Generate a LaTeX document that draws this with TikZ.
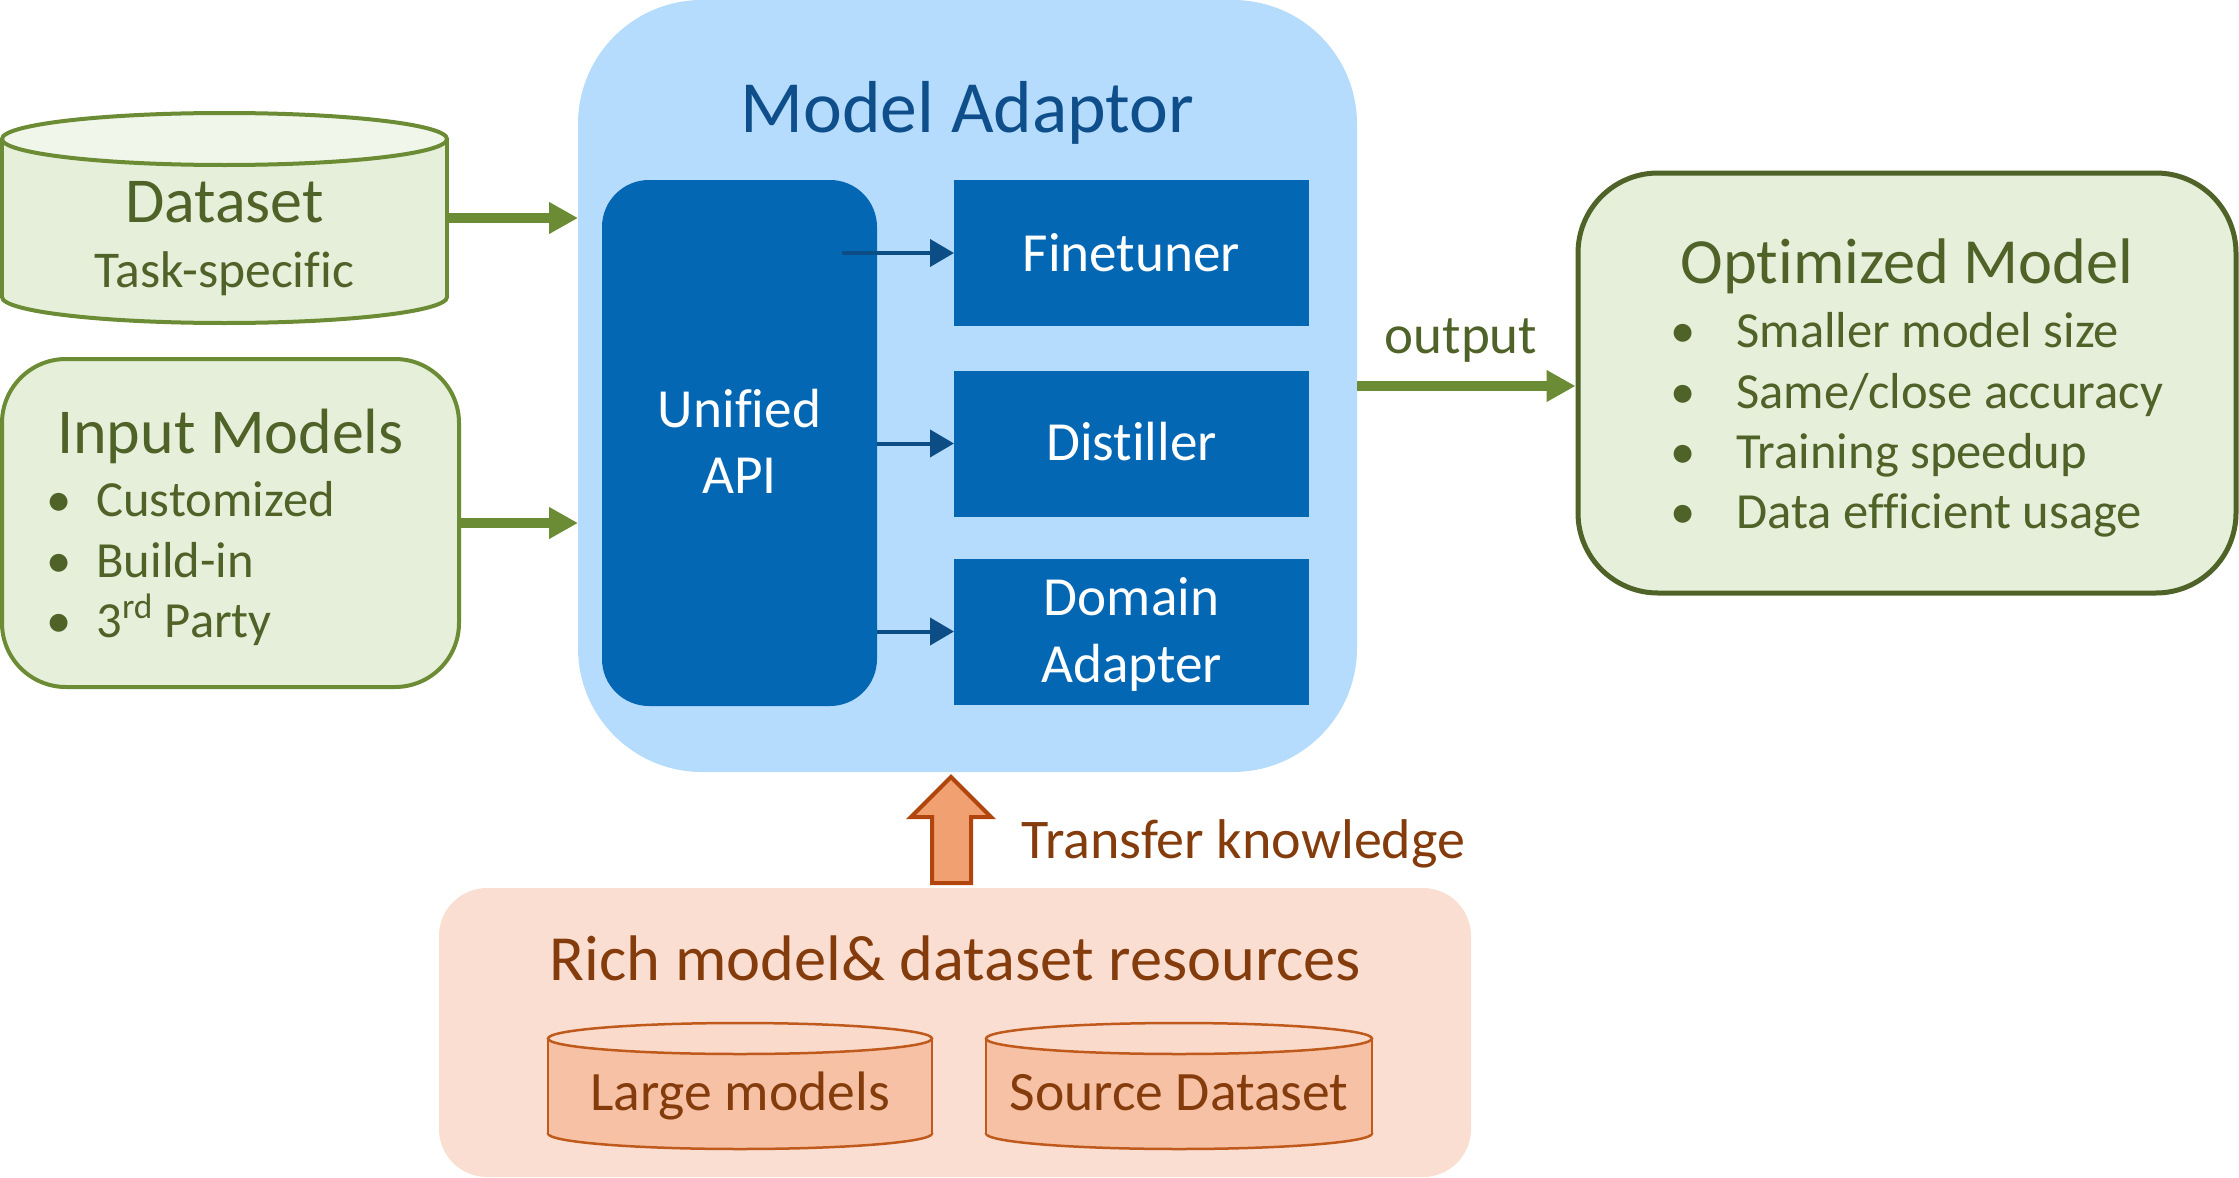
\documentclass[tikz,border=0pt]{standalone}
\usepackage{fontspec}
\setmainfont{Carlito}[Ligatures=NoCommon]
\usetikzlibrary{arrows.meta}
\definecolor{gline}{HTML}{6B8B34}
\definecolor{gdark}{HTML}{4F6228}
\definecolor{gfill}{HTML}{E6EFD9}
\definecolor{gfilltop}{HTML}{F1F6EA}
\definecolor{bigblue}{HTML}{B5DBFD}
\definecolor{boxblue}{HTML}{0467B4}
\definecolor{titleblue}{HTML}{0E4E8A}
\definecolor{arrblue}{HTML}{0D4D86}
\definecolor{peach}{HTML}{FADED1}
\definecolor{cylbody}{HTML}{F6C1A4}
\definecolor{cyltop}{HTML}{FADBCB}
\definecolor{cylstroke}{HTML}{C05A1C}
\definecolor{browntxt}{HTML}{843C0C}
\definecolor{arrfill}{HTML}{F1A171}
\definecolor{arrstroke}{HTML}{B0460E}
\newcommand\fsz[1]{\fontsize{#1}{#1}\selectfont}
% cylinder: #1 xl, #2 xr, #3 top edge y, #4 bottom edge y, #5 ry, #6 body, #7 top, #8 stroke, #9 width
\newcommand\drawcyl[9]{%
  \pgfmathsetmacro\cylcx{(#1+#2)/2}%
  \pgfmathsetmacro\cylrx{(#2-#1)/2}%
  \pgfmathsetmacro\cylyt{#3+#5}%
  \pgfmathsetmacro\cylyb{#4-#5}%
  \path[fill=#6,draw=#8,line width=#9] (\cylcx,\cylyb) ellipse ({\cylrx} and {#5});
  \path[fill=#6] (#1,\cylyt) rectangle (#2,\cylyb);
  \draw[#8,line width=#9] (#1,\cylyt) -- (#1,\cylyb) (#2,\cylyt) -- (#2,\cylyb);
  \path[fill=#7,draw=#8,line width=#9] (\cylcx,\cylyt) ellipse ({\cylrx} and {#5});
}
\tikzset{
  gt/.style={text=gdark, inner sep=0pt, anchor=base},
  gtl/.style={text=gdark, inner sep=0pt, anchor=base west},
  wt/.style={text=white, inner sep=0pt, anchor=base},
  bt/.style={text=browntxt, inner sep=0pt, anchor=base},
  bluebox/.style={fill=boxblue, draw=none, inner sep=0pt, outer sep=0pt, minimum width=177.5pt, minimum height=73pt},
  garrow/.style={gline, line width=5pt, -{Triangle[length=14.5pt,width=15pt]}},
  barrow/.style={arrblue, line width=2pt, -{Triangle[length=12pt,width=13.5pt]}},
}
\begin{document}
\begin{tikzpicture}[x=0.5pt,y=-0.5pt]
\useasboundingbox (0,0) rectangle (2239,1178);

% ---------- Model Adaptor ----------
\node[fill=bigblue, draw=none, rounded corners=62pt, minimum width=389.5pt, minimum height=386pt, inner sep=0pt, outer sep=0pt] (ma) at (967.5,386) {};
\node[text=titleblue, inner sep=0pt, anchor=base, font=\fsz{36.8}] (maT) at (967.5,132) {Model Adaptor};
\node[fill=boxblue, draw=none, rounded corners=23.5pt, minimum width=137.5pt, minimum height=263pt, inner sep=0pt, outer sep=0pt] (api) at (739.5,443) {};
\node[wt, font=\fsz{27.6}] (apiT1) at (739.5,427) {Unified};
\node[wt, font=\fsz{27.6}] (apiT2) at (739.5,493) {API};
\node[bluebox] (ft) at (1131.5,253) {};
\node[bluebox] (dis) at (1131.5,443.5) {};
\node[bluebox] (dom) at (1131.5,631.5) {};
\node[wt, font=\fsz{27.6}] (ftT) at (1131.5,271) {Finetuner};
\node[wt, font=\fsz{27.6}] (disT) at (1131.5,460) {Distiller};
\node[wt, font=\fsz{27.6}] (domT1) at (1131.5,615) {Domain};
\node[wt, font=\fsz{27.6}] (domT2) at (1131.5,682) {Adapter};
\coordinate (apiF) at (842,253);
\draw[barrow] (apiF) -- (ft.west);
\draw[barrow] (api.east |- dis.west) -- (dis.west);
\draw[barrow] (api.east |- dom.west) -- (dom.west);

% ---------- Dataset ----------
\drawcyl{2}{447}{113}{323}{26}{gfill}{gfilltop}{gline}{2pt}
\node[draw=none, inner sep=0pt, outer sep=0pt, minimum width=222.5pt, minimum height=105pt] (ds) at (224.5,218) {};
\node[gt, font=\fsz{32}] (dsT1) at (224.5,222) {Dataset};
\node[gt, font=\fsz{25.8}] (dsT2) at (224.5,287) {Task-specific};

% ---------- Input Models ----------
\node[fill=gfill, draw=gline, line width=2pt, rounded corners=32pt, minimum width=228.5pt, minimum height=164pt, inner sep=0pt, outer sep=0pt] (inm) at (230.5,523) {};
\node[gt, font=\fsz{32}] (inmT) at (230.5,453) {Input Models};
\node[gt, font=\fsz{25.3}] (inmB1) at (59,516) {•};
\node[gt, font=\fsz{25.3}] (inmB2) at (59,577) {•};
\node[gt, font=\fsz{25.3}] (inmB3) at (59,637) {•};
\node[gtl, font=\fsz{25.3}] (inmL1) at (96,516) {Customized};
\node[gtl, font=\fsz{25.3}] (inmL2) at (96,577) {Build-in};
\node[gtl, font=\fsz{25.3}] (inmL3) at (96,637) {3\textsuperscript{rd} Party};

\draw[garrow] (ds.east) -- (ds.east -| ma.west);
\draw[garrow] (inm.east) -- (inm.east -| ma.west);

% ---------- Optimized Model ----------
\node[fill=gfill, draw=gdark, line width=2.5pt, rounded corners=40pt, minimum width=329pt, minimum height=210pt, inner sep=0pt] (opt) at (1907,383) {};
\node[gt, font=\fsz{32.2}] (optT) at (1907,283) {Optimized Model};
\node[gt, font=\fsz{25.3}] (optB1) at (1683,347) {•};
\node[gt, font=\fsz{25.3}] (optB2) at (1683,408) {•};
\node[gt, font=\fsz{25.3}] (optB3) at (1683,468) {•};
\node[gt, font=\fsz{25.3}] (optB4) at (1683,528) {•};
\node[gtl, font=\fsz{25.3}] (optL1) at (1736,347) {Smaller model size};
\node[gtl, font=\fsz{25.3}] (optL2) at (1736,408) {Same/close accuracy};
\node[gtl, font=\fsz{25.3}] (optL3) at (1736,468) {Training speedup};
\node[gtl, font=\fsz{25.3}] (optL4) at (1736,528) {Data efficient usage};
\draw[garrow] (ma.east |- 0,386) -- (opt.west |- 0,386);
\node[gt, font=\fsz{27.5}] (outT) at (1461,353) {output};

% ---------- Rich resources ----------
\node[fill=peach, draw=none, rounded corners=24pt, minimum width=516pt, minimum height=144.5pt, inner sep=0pt, outer sep=0pt] (rich) at (955,1032.5) {};
\node[bt, font=\fsz{32.2}] (richT) at (955.5,980) {Rich model\& dataset resources};
\drawcyl{548}{932}{1023}{1149}{15.5}{cylbody}{cyltop}{cylstroke}{1.25pt}
\drawcyl{986}{1372}{1023}{1149}{15.5}{cylbody}{cyltop}{cylstroke}{1.25pt}
\node[draw=none, inner sep=0pt, minimum width=192pt, minimum height=63pt] (lm) at (740,1086) {};
\node[draw=none, inner sep=0pt, minimum width=193pt, minimum height=63pt] (sd) at (1179,1086) {};
\node[bt, font=\fsz{27.8}] (lmT) at (740,1110) {Large models};
\node[bt, font=\fsz{27.8}] (sdT) at (1179,1110) {Source Dataset};

% ---------- Transfer arrow ----------
\path[fill=arrfill, draw=arrstroke, line width=2pt, line join=miter]
  (932,883) -- (932,817) -- (911,817) -- (951,777) -- (991,817) -- (971,817) -- (971,883) -- cycle;
\node[bt, anchor=base west, font=\fsz{28}] (trT) at (1021,858) {Transfer knowledge};
\end{tikzpicture}
\end{document}
